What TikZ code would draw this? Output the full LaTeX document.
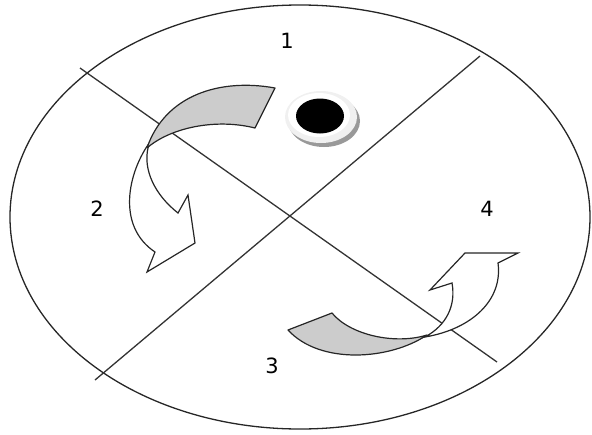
\documentclass[tikz,border=0pt]{standalone}
\usepackage{fontspec}
\setmainfont{DejaVu Sans}
\begin{document}
\begin{tikzpicture}[x=1pt,y=-1pt,
  edge/.style={draw=black!80,line width=1.3pt},
  lab/.style={font=\fontsize{21}{25}\selectfont,text=black,inner sep=0pt},
  band/.style={draw=black!85,line width=1.2pt,fill=black!20,line join=round},
  flat/.style={draw=black!85,line width=1.2pt,fill=white,line join=miter}]
\useasboundingbox (0,0) rectangle (592,434);
% outer ellipse
\coordinate (disc) at (300,217);
\draw[black!85,line width=1.3pt] (disc) ellipse [x radius=290,y radius=212];
% dividing lines
\coordinate (a1) at (80,68);
\coordinate (a2) at (497,362);
\coordinate (b1) at (480,56);
\coordinate (b2) at (95,380);
\draw[edge] (a1) -- (a2);
\draw[edge] (b1) -- (b2);
% upper-left arrow: white front part
\draw[flat] (150,142) .. controls (128,172) and (116,226) .. (155,252)
  -- (147,272) -- (195,243) -- (188,195) -- (178,213)
  .. controls (155,195) and (143,170) .. (148,148) -- cycle;
% upper-left arrow: grey back part
\draw[band] (147,148) .. controls (165,95) and (220,78) .. (275,88)
  -- (255,128) .. controls (215,118) and (170,128) .. cycle;
% lower-right arrow: grey back part
\draw[band] (288,330) -- (332,313)
  .. controls (350,335) and (395,345) .. (427,335)
  .. controls (390,360) and (320,365) .. cycle;
% lower-right arrow: white front part
\draw[flat] (425,337) .. controls (472,329) and (503,300) .. (498,263)
  -- (518,253) -- (465,253) -- (430,290) -- (452,283)
  .. controls (456,305) and (447,325) .. cycle;
% black dot with ring and shadow
\fill[black!40] (324,121) ellipse [x radius=36,y radius=26];
\fill[black!6] (321,117) ellipse [x radius=36,y radius=26];
\fill[white] (319,115) ellipse [x radius=31,y radius=22];
\fill[black] (320,116) ellipse [x radius=24,y radius=17.5];
% labels
\node[lab] (l1) at (287,41) {1};
\node[lab] (l2) at (97,209) {2};
\node[lab] (l3) at (272,366) {3};
\node[lab] (l4) at (487,209) {4};
\end{tikzpicture}
\end{document}
